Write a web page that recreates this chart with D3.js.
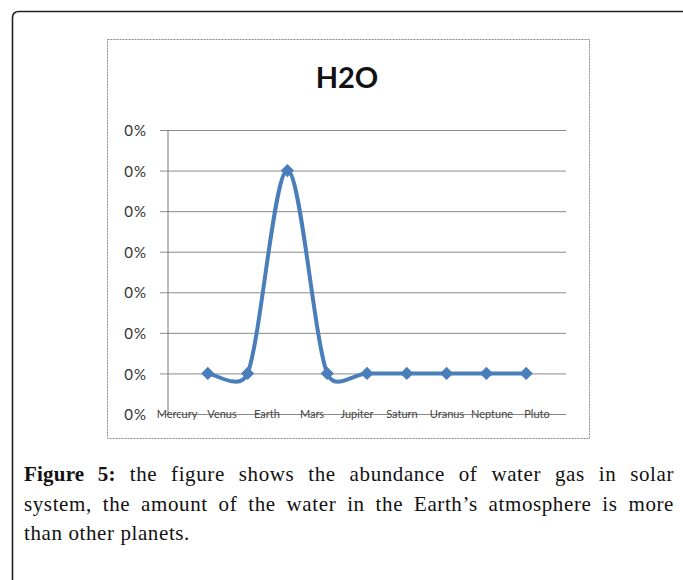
<!DOCTYPE html>
<html>
<head>
<meta charset="utf-8">
<script src="https://cdn.jsdelivr.net/npm/d3@7"></script>
<style>
  body { margin: 0; background: #fff; }
  #wrap { position: relative; width: 683px; height: 580px; overflow: hidden; }
  svg { position: absolute; left: 0; top: 0; }
  #caption {
    position: absolute; left: 24px; top: 460px; width: 650px;
    font-family: "Liberation Serif", "DejaVu Serif", serif;
    font-size: 21px; line-height: 29.5px; color: #111;
    letter-spacing: 0.6px;
  }
  #caption .j { text-align: justify; text-align-last: justify; }
  #caption b { font-weight: bold; letter-spacing: 0.2px; }
</style>
</head>
<body>
<div id="wrap">
  <div id="caption">
    <div class="j"><b>Figure 5:</b> the figure shows the abundance of water gas in solar</div>
    <div class="j">system, the amount of the water in the Earth’s atmosphere is more</div>
    <div>than other planets.</div>
  </div>
</div>
<script>
document.addEventListener("DOMContentLoaded", () => {
  // chart data (tiny fractions, so every tick reads 0%)
  const planets = ["Mercury", "Venus", "Earth", "Mars", "Jupiter", "Saturn", "Uranus", "Neptune", "Pluto"];
  const h2o = [0.0001, 0.0001, 0.0006, 0.0001, 0.0001, 0.0001, 0.0001, 0.0001, 0.0001];
  const yTicks = [0, 0.0001, 0.0002, 0.0003, 0.0004, 0.0005, 0.0006, 0.0007];
  const title = "H2O";

  const width = 683, height = 580;
  const lineColor = "#4a7ebb";

  const svg = d3.select("#wrap")
    .insert("svg", ":first-child")
    .attr("width", width)
    .attr("height", height);

  // outer frame (rounded top-left corner, open on the right)
  svg.append("path")
    .attr("d", "M683,11.5 H19 Q12.5,11.5 12.5,18 V580")
    .attr("fill", "none")
    .attr("stroke", "#222")
    .attr("stroke-width", 1.6);

  // chart area box
  svg.append("rect")
    .attr("x", 107.5).attr("y", 39.5)
    .attr("width", 482).attr("height", 399)
    .attr("fill", "#fff")
    .attr("stroke", "#8a8a8a")
    .attr("stroke-dasharray", "2,1");

  // slots: one empty slot before Mercury and after Pluto
  var x = d3.scaleLinear().domain([-1, planets.length]).range([168, 566]);
  // Excel spread the category labels wider than the points
  var xLabel = d3.scaleLinear().domain([0, planets.length - 1]).range([177, 537]);
  var y = d3.scaleLinear().domain([0, 0.0007]).range([414, 130]);

  svg.append("text")
    .attr("x", 347)
    .attr("y", 88)
    .attr("text-anchor", "middle")
    .attr("font-family", "Lato, sans-serif")
    .attr("font-weight", "bold")
    .attr("font-size", 29)
    .attr("fill", "#111")
    .text(title);

  // gridlines + y axis
  var yAxis = d3.axisLeft(y)
    .tickValues(yTicks)
    .tickFormat(d3.format(".0%"))
    .tickSize(-(566 - 168))
    .tickPadding(21);

  var gy = svg.append("g")
    .attr("transform", "translate(168,0)")
    .call(yAxis);
  gy.select(".domain").remove();
  gy.selectAll(".tick line")
    .attr("x1", -8)
    .attr("stroke", "#8a8a8a");
  gy.selectAll(".tick text")
    .attr("font-family", "Lato, sans-serif")
    .attr("font-size", 15)
    .attr("letter-spacing", 1)
    .attr("fill", "#333")
    .attr("dy", "0.38em");

  // vertical axis line
  svg.append("line")
    .attr("x1", 168).attr("x2", 168)
    .attr("y1", y(0.0007)).attr("y2", y(0))
    .attr("stroke", "#777");

  // category labels sitting on the baseline
  svg.selectAll(".cat")
    .data(planets)
    .enter()
    .append("text")
    .attr("class", "cat")
    .attr("x", (d, i) => xLabel(i))
    .attr("y", y(0) + 3.5)
    .attr("text-anchor", "middle")
    .attr("font-family", "Lato, sans-serif")
    .attr("font-size", 11)
    .attr("fill", "#444")
    .text(d => d);

  // Excel style smoothing: cardinal tangents, clamped to half of each segment
  const smoothPath = (pts) => {
    const p = d3.path();
    const n = pts.length;
    const tan = pts.map((pt, i) => {
      const a = pts[Math.max(i - 1, 0)], b = pts[Math.min(i + 1, n - 1)];
      return [(b[0] - a[0]) / 6, (b[1] - a[1]) / 6];
    });
    const clamp = (t, len) => {
      const m = Math.hypot(t[0], t[1]);
      const k = m > len / 2 ? (len / 2) / m : 1;
      return [t[0] * k, t[1] * k];
    };
    p.moveTo(pts[0][0], pts[0][1]);
    for (let i = 0; i < n - 1; i++) {
      const a = pts[i], b = pts[i + 1];
      const len = Math.hypot(b[0] - a[0], b[1] - a[1]);
      const t0 = clamp(tan[i], len), t1 = clamp(tan[i + 1], len);
      p.bezierCurveTo(a[0] + t0[0], a[1] + t0[1], b[0] - t1[0], b[1] - t1[1], b[0], b[1]);
    }
    return p.toString();
  };

  const points = h2o.map((d, i) => [x(i), y(d)]);

  svg.append("path")
    .attr("d", smoothPath(points))
    .attr("fill", "none")
    .attr("stroke", lineColor)
    .attr("stroke-width", 4)
    .attr("stroke-linejoin", "round");

  // diamond markers
  var diamond = d3.symbol().type(d3.symbolSquare).size(88);
  svg.selectAll(".marker")
    .data(h2o)
    .enter()
    .append("path")
    .attr("class", "marker")
    .attr("d", diamond)
    .attr("transform", (d, i) => `translate(${x(i)},${y(d)}) rotate(45)`)
    .attr("fill", lineColor);
});
</script>
</body>
</html>
